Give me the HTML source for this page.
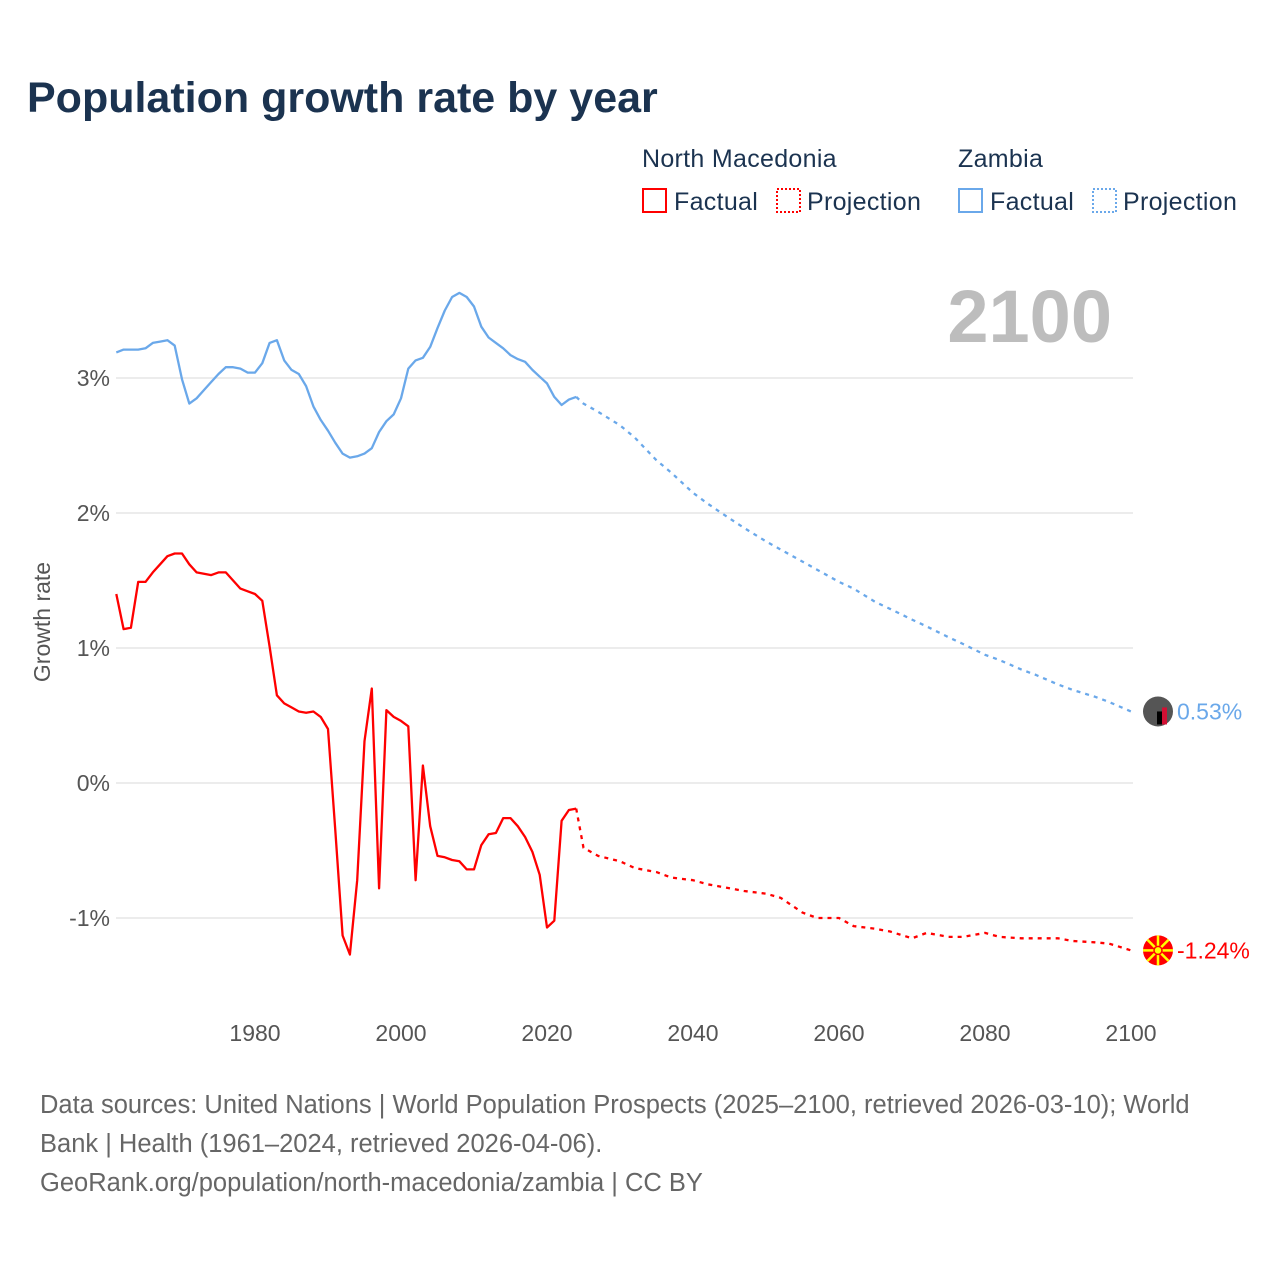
<!DOCTYPE html>
<html><head><meta charset="utf-8"><style>
body{margin:0;background:#fff;width:1280px;height:1280px;overflow:hidden;font-family:"Liberation Sans",sans-serif}
</style></head><body>
<svg width="1280" height="1280" xmlns="http://www.w3.org/2000/svg" font-family="Liberation Sans, sans-serif">
<text x="27" y="112" font-size="43" font-weight="bold" fill="#1b3350">Population growth rate by year</text>
<g font-size="25" fill="#1b3350" letter-spacing="0.3">
<text x="642" y="167">North Macedonia</text>
<text x="958" y="167">Zambia</text>
<g><rect x="643" y="189" width="23" height="23" fill="none" stroke="#f00" stroke-width="2"/><text x="674" y="210">Factual</text></g>
<g><rect x="777" y="189" width="23" height="23" fill="none" stroke="#f00" stroke-width="2" stroke-dasharray="2,2"/><text x="807" y="210">Projection</text></g>
<g><rect x="959" y="189" width="23" height="23" fill="none" stroke="#6aa8ea" stroke-width="2"/><text x="990" y="210">Factual</text></g>
<g><rect x="1093" y="189" width="23" height="23" fill="none" stroke="#6aa8ea" stroke-width="2" stroke-dasharray="2,2"/><text x="1123" y="210">Projection</text></g>
</g>
<text x="1112" y="342" text-anchor="end" font-size="74" font-weight="bold" fill="#bdbdbd">2100</text>
<text transform="translate(50,622) rotate(-90)" text-anchor="middle" font-size="23" fill="#555">Growth rate</text>
<g id="grid"></g><g id="yt"></g><g id="xt"></g><g id="lines"></g><g id="ends"></g>
<g font-size="25.5" fill="#666">
<text x="40" y="1113">Data sources: United Nations | World Population Prospects (2025–2100, retrieved 2026-03-10); World</text>
<text x="40" y="1152">Bank | Health (1961–2024, retrieved 2026-04-06).</text>
<text x="40" y="1191">GeoRank.org/population/north-macedonia/zambia | CC BY</text>
</g>
</svg>
<script>
const factualYears=[1961,1962,1963,1964,1965,1966,1967,1968,1969,1970,1971,1972,1973,1974,1975,1976,1977,1978,1979,1980,1981,1982,1983,1984,1985,1986,1987,1988,1989,1990,1991,1992,1993,1994,1995,1996,1997,1998,1999,2000,2001,2002,2003,2004,2005,2006,2007,2008,2009,2010,2011,2012,2013,2014,2015,2016,2017,2018,2019,2020,2021,2022,2023,2024];
const nmFactual=[1.40,1.14,1.15,1.49,1.49,1.56,1.62,1.68,1.70,1.70,1.62,1.56,1.55,1.54,1.56,1.56,1.50,1.44,1.42,1.40,1.35,1.01,0.65,0.59,0.56,0.53,0.52,0.53,0.49,0.40,-0.35,-1.13,-1.27,-0.72,0.31,0.70,-0.78,0.54,0.49,0.46,0.42,-0.72,0.13,-0.32,-0.54,-0.55,-0.57,-0.58,-0.64,-0.64,-0.46,-0.38,-0.37,-0.26,-0.26,-0.32,-0.40,-0.51,-0.68,-1.07,-1.02,-0.28,-0.20,-0.19];
const zmFactual=[3.19,3.21,3.21,3.21,3.22,3.26,3.27,3.28,3.24,2.99,2.81,2.85,2.91,2.97,3.03,3.08,3.08,3.07,3.04,3.04,3.11,3.26,3.28,3.13,3.06,3.03,2.94,2.79,2.69,2.61,2.52,2.44,2.41,2.42,2.44,2.48,2.60,2.68,2.73,2.85,3.07,3.13,3.15,3.23,3.37,3.50,3.60,3.63,3.60,3.53,3.38,3.30,3.26,3.22,3.17,3.14,3.12,3.06,3.01,2.96,2.86,2.80,2.84,2.86];
const projYears=[2024,2025,2027,2030,2032,2035,2037,2040,2042,2045,2047,2050,2052,2055,2057,2060,2062,2065,2067,2070,2072,2075,2077,2080,2082,2085,2087,2090,2092,2095,2097,2100];
const nmProj=[-0.19,-0.48,-0.54,-0.58,-0.63,-0.66,-0.70,-0.72,-0.75,-0.78,-0.80,-0.82,-0.85,-0.96,-1.00,-1.00,-1.06,-1.08,-1.10,-1.15,-1.11,-1.14,-1.14,-1.11,-1.14,-1.15,-1.15,-1.15,-1.17,-1.18,-1.19,-1.24];
const zmProj=[2.86,2.81,2.75,2.65,2.56,2.39,2.30,2.15,2.07,1.96,1.89,1.79,1.73,1.64,1.58,1.49,1.44,1.34,1.29,1.21,1.16,1.08,1.03,0.95,0.91,0.84,0.80,0.73,0.69,0.64,0.60,0.53];
const yTicks=[3,2,1,0,-1];
const yTickLabels=["3%","2%","1%","0%","-1%"];
const xTicks=[1980,2000,2020,2040,2060,2080,2100];
const endLabels=["0.53%","-1.24%"];

const X=y=>116.3+(y-1961)*7.3;
const Y=v=>783-v*135;
const NS="http://www.w3.org/2000/svg";
function mk(tag,attrs,parent){const e=document.createElementNS(NS,tag);for(const k in attrs)e.setAttribute(k,attrs[k]);parent.appendChild(e);return e;}
const grid=document.getElementById('grid'),yt=document.getElementById('yt'),xt=document.getElementById('xt'),lines=document.getElementById('lines'),ends=document.getElementById('ends');
yTicks.forEach((t,i)=>{
 const l=mk('line',{x1:116,x2:1133,y1:Y(t),y2:Y(t),stroke:'#e6e6e6','stroke-width':1.5},grid);
 
 
 const tx=mk('text',{x:110,y:Y(t)+8,'text-anchor':'end','font-size':23,fill:'#555'},yt);
 tx.textContent=yTickLabels[i];
 
 
});
xTicks.forEach(t=>{
 const tx=mk('text',{x:X(t),y:1041,'text-anchor':'middle','font-size':23,fill:'#555'},xt);
 tx.textContent=t;
 
 
});
function path(xs,vs,color,dash,name){
 const d=xs.map((y,i)=>(i?'L':'M')+X(y).toFixed(1)+','+Y(vs[i]).toFixed(1)).join('');
 const p=mk('path',{d:d,fill:'none',stroke:color,'stroke-width':2.3,'stroke-linejoin':'round'},lines);
 if(dash)p.setAttribute('stroke-dasharray','4,5');
 
 
}
path(factualYears,zmFactual,'#6aa8ea',false,'zambia-factual-line');
path(projYears,zmProj,'#6aa8ea',true,'zambia-projection-line');
path(factualYears,nmFactual,'#f00',false,'north-macedonia-factual-line');
path(projYears,nmProj,'#f00',true,'north-macedonia-projection-line');
const lastZ=zmProj[zmProj.length-1],lastN=nmProj[nmProj.length-1];
const zc=mk('circle',{cx:1158,cy:Y(lastZ),r:15,fill:'#555'},ends);


mk('rect',{x:1157,y:Y(lastZ),width:5,height:13,fill:'#000'},ends);
mk('rect',{x:1162,y:Y(lastZ)-4,width:5,height:17,fill:'#d21034'},ends);
const nc=mk('circle',{cx:1158,cy:Y(lastN),r:15,fill:'#f00'},ends);


for(let a=0;a<8;a++){const ang=a*Math.PI/4;mk('line',{x1:1158,y1:Y(lastN),x2:1158+15*Math.cos(ang),y2:Y(lastN)+15*Math.sin(ang),stroke:'#ff0','stroke-width':2.5},ends);}
mk('circle',{cx:1158,cy:Y(lastN),r:4,fill:'#ff0',stroke:'#f00','stroke-width':1.5},ends);
const zl=mk('text',{x:1177,y:Y(lastZ)+8,'font-size':23,fill:'#6aa8ea'},ends);
zl.textContent=endLabels[0];


const nl=mk('text',{x:1177,y:Y(lastN)+8,'font-size':23,fill:'#f00'},ends);
nl.textContent=endLabels[1];


</script>
</body></html>
